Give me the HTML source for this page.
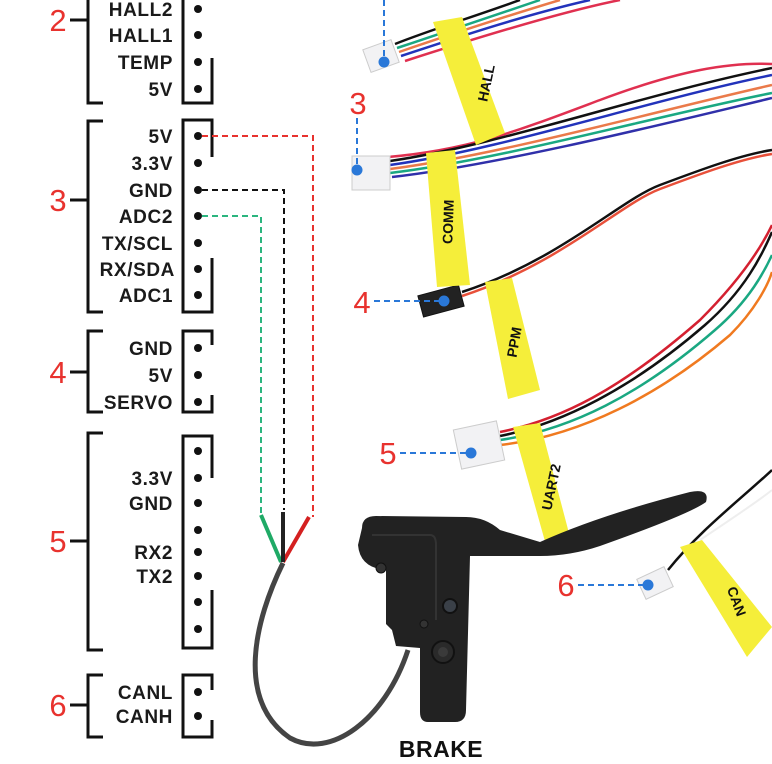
<!DOCTYPE html>
<html><head><meta charset="utf-8"><style>
html,body{margin:0;padding:0;background:#fff;}
svg{display:block;}
.lb{font-family:"Liberation Sans",sans-serif;font-weight:bold;font-size:19px;letter-spacing:0.6px;fill:#1a1a1a;text-anchor:end;}
.num{font-family:"Liberation Sans",sans-serif;font-size:31px;fill:#e8322e;text-anchor:middle;}
.tag{font-family:"Liberation Sans",sans-serif;font-weight:bold;font-size:14px;fill:#111;text-anchor:middle;}
</style></head><body>
<svg width="772" height="764" viewBox="0 0 772 764" xmlns="http://www.w3.org/2000/svg">
<g fill="none" stroke="#111" stroke-width="3">
<path d="M88,-5 V103 H103"/><path d="M70,20 H88"/>
<path d="M183,-5 V103 H212 V58"/>
<path d="M103,121 H88 V312 H103"/><path d="M70,200 H88"/>
<path d="M212,157 V120 H183 V312 H212 V258"/>
<path d="M103,331 H88 V412 H103"/><path d="M70,372 H88"/>
<path d="M212,345 V331 H183 V412 H212 V395"/>
<path d="M103,433 H88 V650 H103"/><path d="M70,541 H88"/>
<path d="M212,478 V436 H183 V648 H212 V590"/>
<path d="M103,675 H88 V737 H103"/><path d="M70,705 H88"/>
<path d="M212,690 V675 H183 V737 H212 V720"/>
</g>
<g class="num"><text x="58" y="31">2</text><text x="58" y="211">3</text><text x="58" y="383">4</text><text x="58" y="552">5</text><text x="58" y="716">6</text></g>
<g class="lb">
<text x="173" y="16">HALL2</text><text x="173" y="42">HALL1</text><text x="173" y="69">TEMP</text><text x="173" y="96">5V</text>
<text x="173" y="143">5V</text><text x="173" y="170">3.3V</text><text x="173" y="197">GND</text><text x="173" y="223">ADC2</text><text x="173" y="250">TX/SCL</text><text x="175" y="276">RX/SDA</text><text x="173" y="302">ADC1</text>
<text x="173" y="355">GND</text><text x="173" y="382">5V</text><text x="173" y="409">SERVO</text>
<text x="173" y="485">3.3V</text><text x="173" y="510">GND</text><text x="173" y="559">RX2</text><text x="173" y="583">TX2</text>
<text x="173" y="699">CANL</text><text x="173" y="723">CANH</text>
</g>
<g fill="#111">
<circle cx="198" cy="9" r="4"/><circle cx="198" cy="35" r="4"/><circle cx="198" cy="62" r="4"/><circle cx="198" cy="89" r="4"/>
<circle cx="198" cy="136" r="4"/><circle cx="198" cy="163" r="4"/><circle cx="198" cy="190" r="4"/><circle cx="198" cy="216" r="4"/><circle cx="198" cy="243" r="4"/><circle cx="198" cy="269" r="4"/><circle cx="198" cy="295" r="4"/>
<circle cx="198" cy="348" r="4"/><circle cx="198" cy="375" r="4"/><circle cx="198" cy="402" r="4"/>
<circle cx="198" cy="451" r="4"/><circle cx="198" cy="478" r="4"/><circle cx="198" cy="503" r="4"/><circle cx="198" cy="530" r="4"/><circle cx="198" cy="552" r="4"/><circle cx="198" cy="576" r="4"/><circle cx="198" cy="602" r="4"/><circle cx="198" cy="629" r="4"/>
<circle cx="198" cy="692" r="4"/><circle cx="198" cy="716" r="4"/>
</g>
<g fill="none" stroke-width="2" stroke-dasharray="6,4">
<path d="M202,136 H313 V517" stroke="#e8322e"/>
<path d="M202,190 H284 V510" stroke="#111"/>
<path d="M202,216 H261 V515" stroke="#2bb57f"/>
</g>
<path d="M283,563 C255,620 235,700 290,738 C330,760 385,720 408,650" fill="none" stroke="#444" stroke-width="5"/>
<path d="M261,515 L281,562" stroke="#1faa66" stroke-width="4"/>
<path d="M309,517 L283,562" stroke="#d42020" stroke-width="4"/>
<path d="M283,512 L283,562" stroke="#222" stroke-width="4"/>
<g fill="none" stroke-width="2.5">
<path d="M395,44 C430,30 470,18 520,0" stroke="#111"/>
<path d="M397,48 C440,34 480,20 540,0" stroke="#1aa882"/>
<path d="M399,52 C440,38 500,18 560,0" stroke="#ea7a4a"/>
<path d="M401,56 C450,40 520,16 590,0" stroke="#2233bb"/>
<path d="M405,61 C470,40 560,12 620,0" stroke="#e03050"/>
</g>
<g fill="none" stroke-width="2.5">
<path d="M388,157 C470,150 520,130 600,100 C680,70 730,62 772,64" stroke="#e03050"/>
<path d="M390,161 C500,145 640,95 772,68" stroke="#111"/>
<path d="M390,165 C500,150 650,100 772,75" stroke="#2233bb"/>
<path d="M390,169 C500,155 660,110 772,85" stroke="#ea7a4a"/>
<path d="M390,173 C500,160 660,115 772,93" stroke="#1aa882"/>
<path d="M392,177 C500,165 680,120 772,98" stroke="#3030aa"/>
</g>
<path d="M462,292 C560,260 620,200 660,185 C700,170 740,155 772,150" fill="none" stroke="#111" stroke-width="2.5"/>
<path d="M462,296 C560,264 620,204 660,189 C700,174 740,159 772,154" fill="none" stroke="#e8503a" stroke-width="2.5"/>
<g fill="none" stroke-width="2.5">
<path d="M500,432 C560,420 620,390 700,320 C740,280 760,250 772,225" stroke="#d42030"/>
<path d="M500,436 C560,424 630,390 705,325 C745,290 762,255 772,232" stroke="#111"/>
<path d="M500,440 C570,430 640,395 715,330 C750,300 765,270 772,255" stroke="#1aa882"/>
<path d="M500,445 C580,436 660,395 730,335 C755,310 768,285 772,272" stroke="#f07a20"/>
</g>
<path d="M668,570 C700,530 740,500 772,470" fill="none" stroke="#111" stroke-width="2.5"/>
<path d="M700,540 C730,520 760,500 772,490" fill="none" stroke="#eee" stroke-width="2"/>
<g fill="#f2f2f4" stroke="#ccc" stroke-width="1">
<rect x="366" y="44" width="30" height="24" transform="rotate(-20 381 56)"/>
<rect x="352" y="156" width="38" height="34"/>
<rect x="420" y="290" width="42" height="22" fill="#222" stroke="#111" transform="rotate(-15 441 301)"/>
<rect x="457" y="425" width="44" height="40" transform="rotate(-12 479 445)"/>
<rect x="640" y="572" width="30" height="22" transform="rotate(-25 655 583)"/>
</g>
<g fill="#f5ee3a">
<polygon points="433,22 462,17 505,133 476,145"/>
<polygon points="426,153 455,150 470,285 437,287"/>
<polygon points="485,282 512,278 540,390 508,399"/>
<polygon points="513,427 540,423 570,537 546,545"/>
<polygon points="680,547 702,540 772,627 747,657"/>
</g>
<g class="tag">
<text transform="translate(491,84) rotate(-78)">HALL</text>
<text transform="translate(453,222) rotate(-88)">COMM</text>
<text transform="translate(519,343) rotate(-80)">PPM</text>
<text transform="translate(556,488) rotate(-78)">UART2</text>
<text transform="translate(732,603) rotate(70)">CAN</text>
</g>
<g fill="none" stroke="#2a78d8" stroke-width="2" stroke-dasharray="6,4">
<path d="M384,0 V60"/><path d="M357,118 V168"/>
<path d="M374,301 H440"/><path d="M400,453 H468"/><path d="M578,585 H646"/>
</g>
<g fill="#2a78d8">
<circle cx="384" cy="62" r="5.5"/><circle cx="357" cy="170" r="5.5"/><circle cx="444" cy="301" r="5.5"/><circle cx="471" cy="453" r="5.5"/><circle cx="648" cy="585" r="5.5"/>
</g>
<g class="num"><text x="358" y="114">3</text><text x="362" y="313">4</text><text x="388" y="464">5</text><text x="566" y="596">6</text></g>
<path d="M362,528 Q362,516 376,516 L466,517 Q485,517 500,530 L540,542 Q600,515 690,492 Q710,488 706,502 Q690,514 600,546 Q570,556 540,556 L470,556 L466,710 Q466,722 455,722 L428,722 Q420,722 420,712 L420,648 L396,646 L392,630 L386,624 L386,570 Q360,568 358,545 Z" fill="#222"/>
<path d="M372,535 L430,535 Q436,535 436,545 L436,620" fill="none" stroke="#333" stroke-width="2"/>
<circle cx="381" cy="568" r="5" fill="#333" stroke="#111"/>
<circle cx="450" cy="606" r="7" fill="#3a4048" stroke="#111" stroke-width="2"/>
<circle cx="443" cy="652" r="11" fill="#2a2a2a" stroke="#111" stroke-width="2"/>
<circle cx="443" cy="652" r="5" fill="#3a3a3a"/>
<circle cx="424" cy="624" r="4" fill="#333" stroke="#111"/>
<text x="441" y="757" style="font-family:'Liberation Sans',sans-serif;font-weight:bold;font-size:23px;letter-spacing:0.5px;fill:#111;text-anchor:middle">BRAKE</text>
</svg>
</body></html>
